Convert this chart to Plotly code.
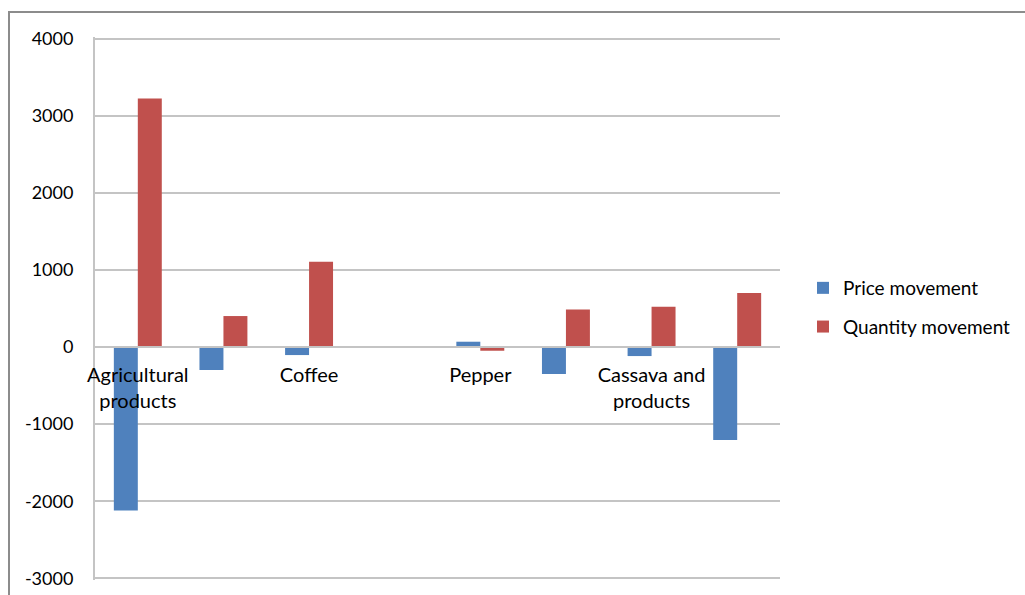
import plotly.graph_objects as go

# Category slots; only every other label is printed on the axis
tick_labels = ["Agricultural<br>products", "", "Coffee", "", "Pepper", "",
               "Cassava and<br>products", ""]
positions = list(range(len(tick_labels)))

price_movement = [-2120, -298, -104, 0, 69, -350, -117, -1205]
quantity_movement = [3225, 402, 1105, 0, -48, 488, 522, 700]

y_min, y_max = -3000, 4000
y_ticks = list(range(y_min, y_max + 1, 1000))

FONT = "Lato"
TEXT = "#000000"
GRID = "#c4c4c4"

W, H = 1025, 595
L, R, T, B = 95, 245, 37, 15
pw, ph = W - L - R, H - T - B


def px_x(px):
    return (px - L) / pw


def px_y(py):
    return (H - B - py) / ph


fig = go.Figure()
fig.add_trace(go.Bar(x=positions, y=price_movement, name="Price movement",
                     marker=dict(color="#4f81bd", line=dict(width=0)),
                     legendgroup="p"))
fig.add_trace(go.Bar(x=positions, y=quantity_movement, name="Quantity movement",
                     marker=dict(color="#c0504d", line=dict(width=0)),
                     legendgroup="q"))

pad = 22  # keeps the outermost gridlines inside the drawn range
fig.update_layout(
    width=W, height=H,
    margin=dict(l=L, r=R, t=T, b=B, autoexpand=False),
    paper_bgcolor="white", plot_bgcolor="white",
    barmode="group", bargap=0.44, bargroupgap=0,
    font=dict(family=FONT, size=20, color=TEXT),
    showlegend=True,
    legend=dict(xref="container", yref="container",
                x=803 / W, y=1 - 269 / H, xanchor="left", yanchor="top",
                font=dict(family=FONT, size=19, color=TEXT),
                traceorder="grouped", tracegroupgap=11,
                bgcolor="rgba(0,0,0,0)", borderwidth=0),
    xaxis=dict(range=[-0.5, len(positions) - 0.5],
               tickmode="array", tickvals=positions, ticktext=tick_labels,
               anchor="free", position=(0 - (y_min - pad)) / (y_max - y_min + 2 * pad),
               showgrid=False, zeroline=False,
               showline=True, linecolor=GRID, linewidth=2,
               ticks="", ticklabelstandoff=10,
               tickfont=dict(family=FONT, size=20, color=TEXT)),
    yaxis=dict(range=[y_min - pad, y_max + pad],
               tickmode="array", tickvals=y_ticks,
               ticktext=[str(v) for v in y_ticks],
               showgrid=True, gridcolor=GRID, gridwidth=2,
               zeroline=False, showline=True, linecolor=GRID, linewidth=2,
               ticks="", ticklabelstandoff=16,
               tickfont=dict(family=FONT, size=18, color=TEXT)),
    shapes=[dict(type="rect", xref="paper", yref="paper",
                 x0=px_x(9), x1=px_x(1040), y0=px_y(610), y1=px_y(12),
                 line=dict(color="#8c8c8c", width=2), layer="below")],
)

fig.write_html("out.html")
